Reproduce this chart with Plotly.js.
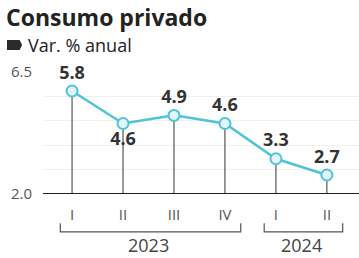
<!DOCTYPE html>
<html><head><meta charset="utf-8">
<script src="https://cdn.plot.ly/plotly-3.0.1.min.js"></script>
<style>html,body{margin:0;padding:0;background:#fff}#c{width:359px;height:258px}</style>
</head><body><div id="c"></div>
<script>
const quarters = ['I','II','III','IV','I','II'];
const years = ['2023','2023','2023','2023','2024','2024'];
const values = [5.8, 4.6, 4.9, 4.6, 3.3, 2.7];
const labelPos = ['top center','bottom center','top center','top center','top center','top center'];
const yMin = 2.0, yMax = 6.5;

const idx = values.map((v,i)=>i);
const dropX = [], dropY = [];
values.forEach((v,i)=>{dropX.push(i,i,null); dropY.push(v,yMin,null);});

const lineColor = '#4fc3da';
const traces = [
  {x:dropX, y:dropY, mode:'lines', line:{color:'#333', width:1}, hoverinfo:'skip', showlegend:false},
  {x:idx, y:values, mode:'lines+markers+text', text:values.map(v=>v.toFixed(1)), textposition:labelPos,
   textfont:{family:'Open Sans', size:18, color:'#333', weight:700},
   line:{color:lineColor, width:2.5},
   marker:{size:11, color:'#e4f6fa', line:{color:lineColor, width:2}}, cliponaxis:false, showlegend:false}
];

// year brackets from data
const groups = [];
years.forEach((y,i)=>{
  const g = groups.find(g=>g.year===y);
  if(g){g.end=i;} else groups.push({year:y,start:i,end:i});
});
const shapes = [
  {type:'line', xref:'paper', x0:0, x1:1, yref:'y', y0:yMin, y1:yMin, line:{color:'#222', width:2}},
  {type:'path', xref:'paper', yref:'paper', path:'M -0.114 1.262 L -0.074 1.262 L -0.066 1.221 L -0.074 1.180 L -0.114 1.180 Z', fillcolor:'#2a2a2a', line:{width:0}}
];
const annotations = [
  {xref:'paper', yref:'paper', x:-0.054, y:1.221, xanchor:'left', yanchor:'middle', showarrow:false,
   text:'Var. % anual', font:{family:'Open Sans', size:18, color:'#222'}}
];
groups.forEach(g=>{
  const a = g.start-0.23, b = g.end+0.31;
  shapes.push({type:'path', xref:'x', yref:'paper',
    path:`M ${a} -0.24 L ${a} -0.31 L ${b} -0.31 L ${b} -0.24`, line:{color:'#555', width:1.2}});
  annotations.push({xref:'x', yref:'paper', x:(g.start+g.end)/2, y:-0.42, showarrow:false,
    text:g.year, font:{family:'Open Sans', size:18, color:'#444'}, yanchor:'middle'});
});

const layout = {
  width:359, height:258, margin:{l:43, r:0, t:72, b:64},
  paper_bgcolor:'#fff', plot_bgcolor:'#fff',
  title:{text:'<b>Consumo privado</b>', xref:'container', yref:'container', x:6/359, xanchor:'left', y:1-18/258, yanchor:'middle',
    font:{family:'Open Sans', size:23, color:'#222'}},
  xaxis:{range:[-0.57,5.63], tickvals:idx, ticktext:quarters, showgrid:false, zeroline:false, showline:false,
    ticks:'', ticklabelstandoff:10, tickfont:{family:'Open Sans', size:15, color:'#555'}, fixedrange:true},
  yaxis:{range:[yMin,yMax], tickvals:[2.0,2.9,3.8,4.7,5.6,6.5], ticktext:['2.0','','','','','6.5'],
    showgrid:true, gridcolor:'#f0f0f0', zeroline:false, showline:false, ticks:'', ticklabelstandoff:10,
    tickfont:{family:'Open Sans', size:15, color:'#555'}, fixedrange:true},
  shapes, annotations, showlegend:false
};
Plotly.newPlot('c', traces, layout, {displayModeBar:false, staticPlot:true});
</script></body></html>
